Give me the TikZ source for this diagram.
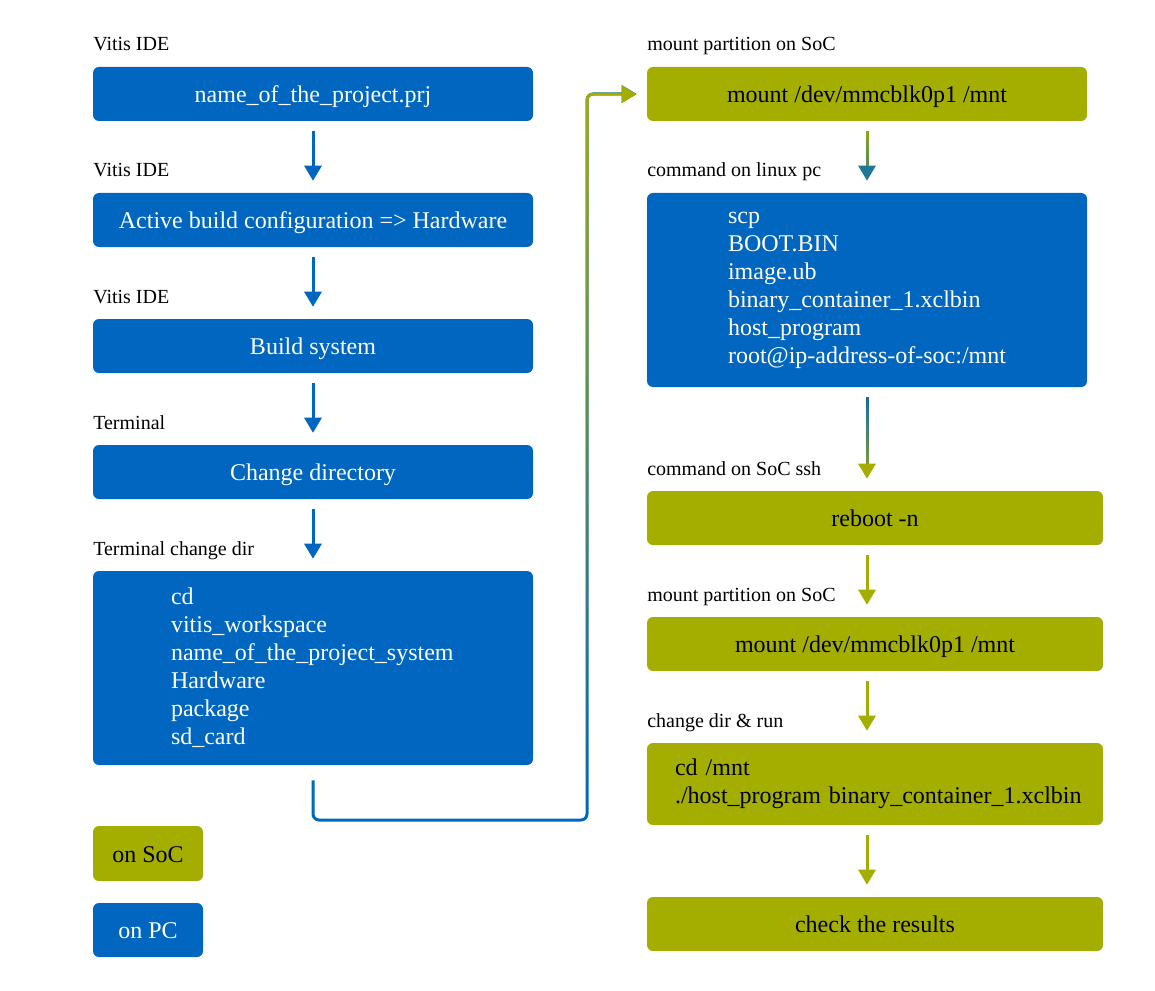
\documentclass[tikz,border=0pt]{standalone}
\usepackage{fontspec}
\setmainfont{Liberation Serif}
\usetikzlibrary{arrows.meta,fadings}
\definecolor{pcblue}{RGB}{0,102,191}
\definecolor{socgreen}{RGB}{163,174,0}
\definecolor{mixteal}{RGB}{30,120,150}

\begin{document}
\begin{tikzpicture}[x=0.75pt,y=-0.75pt]
        \tikzstyle{box} = [rectangle, rounded corners=4.5pt, inner sep=0pt, minimum height=40.5pt, font=\fontsize{18pt}{21pt}\selectfont]
        \tikzstyle{pc} = [box, fill=pcblue, text=white]
        \tikzstyle{soc} = [box, fill=socgreen, text=black]
        \tikzstyle{oneline} = [text height=13pt, text depth=0pt]
        \tikzstyle{wide} = [oneline, minimum width=330pt]
        \tikzstyle{wider} = [oneline, minimum width=342pt]
        \tikzstyle{tag} = [anchor=base west, inner sep=0pt, font=\fontsize{15pt}{18pt}\selectfont]
        \tikzstyle{tip} = [-{Triangle[width=12.75pt,length=11.25pt]}]
        \tikzstyle{flow} = [line width=2.25pt, tip, shorten <=7.5pt, shorten >=9pt]
        \tikzstyle{fade} = [line width=2.25pt, shorten <=7.5pt, shorten >=20pt, path fading=south]
        \useasboundingbox (0,0) rectangle (1155,991);
        % left column, on PC
        \node[tag] (t1) at (93,51) {Vitis IDE};
        \node[pc, wide] (L1) at (313,94) {name\_of\_the\_project.prj};
        \node[tag] (t2) at (93,177) {Vitis IDE};
        \node[pc, wide] (L2) at (313,220) {Active build configuration => Hardware};
        \node[tag] (t3) at (93,303) {Vitis IDE};
        \node[pc, wide] (L3) at (313,346) {Build system};
        \node[tag] (t4) at (93,429) {Terminal};
        \node[pc, wide] (L4) at (313,472) {Change directory};
        \node[tag] (t5) at (93,555) {Terminal change dir};
        \node[pc, minimum width=330pt, minimum height=145.5pt, text width=213pt, align=left] (L5) at (313,668)
            {cd\\vitis\_workspace\\name\_of\_the\_project\_system\\Hardware\\package\\sd\_card};
        % legend
        \node[soc, oneline, minimum width=82.5pt, minimum height=41.25pt] (keysoc) at (148,853.5) {on SoC};
        \node[pc, oneline, minimum width=82.5pt] (keypc) at (148,930) {on PC};
        % right column
        \node[tag] (t6) at (647,51) {mount partition on SoC};
        \node[soc, wide] (R1) at (867,94) {mount /dev/mmcblk0p1 /mnt};
        \node[tag] (t7) at (647,177) {command on linux pc};
        \node[pc, minimum width=330pt, minimum height=145.5pt, text width=208.5pt, align=left] (R2) at (867,290)
            {scp\\BOOT.BIN\\image.ub\\binary\_container\_1.xclbin\\host\_program\\\mbox{root@ip-address-of-soc:/mnt}};
        \node[tag] (t8) at (647,475) {command on SoC ssh};
        \node[soc, wider] (R3) at (875,518) {reboot -n};
        \node[tag] (t9) at (647,601) {mount partition on SoC};
        \node[soc, wider] (R4) at (875,644) {mount /dev/mmcblk0p1 /mnt};
        \node[tag] (t10) at (647,727) {change dir \& run};
        \node[soc, minimum width=342pt, minimum height=61.5pt, text width=300pt, align=left] (R5) at (875,784)
            {cd /mnt\\\mbox{./host\_program binary\_container\_1.xclbin}};
        \node[soc, wider] (R6) at (875,924) {check the results};
        % arrows
        \foreach \from/\to in {L1/L2, L2/L3, L3/L4, L4/L5}
            \draw[flow, pcblue] (\from.south) -- (\from.south |- \to.north);
        \foreach \from/\to in {R3/R4, R4/R5, R5/R6}
            \draw[flow, socgreen] (\from.south -| R1.south) -- (\to.north -| R1.south);
        % colour changes along the arrow
        \draw[flow, mixteal] (R1.south) -- (R1.south |- R2.north);
        \draw[fade, socgreen] (R1.south) -- (R1.south |- R2.north);
        \draw[flow, socgreen] (R1.south |- R2.south) -- (R1.south |- R3.north);
        \draw[fade, pcblue] (R1.south |- R2.south) -- (R1.south |- R3.north);
        % PC -> SoC
        \coordinate (turn) at (587,820);
        \draw[line width=2.25pt, pcblue, rounded corners=4.5pt, tip, shorten >=7.5pt] ([yshift=-11.25pt]L5.south) |- (turn) |- (R1.west);
        \draw[line width=2.25pt, socgreen, rounded corners=4.5pt, tip, shorten >=7.5pt, path fading=south] ([yshift=-11.25pt]L5.south) |- (turn) |- (R1.west);
\end{tikzpicture}
\end{document}
